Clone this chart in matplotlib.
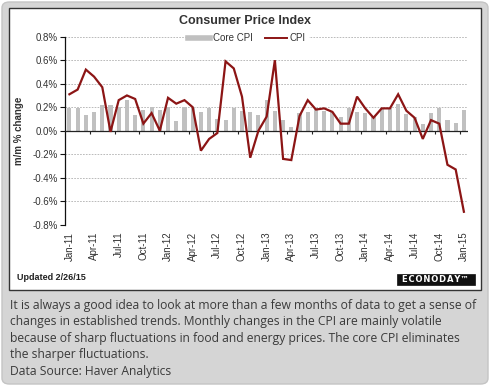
import numpy as np
import matplotlib
matplotlib.use("Agg")
import matplotlib.pyplot as plt
from matplotlib.patches import FancyBboxPatch, Rectangle
from matplotlib.lines import Line2D

plt.rcParams['font.family'] = ['Liberation Sans', 'DejaVu Sans']

months = ["Jan-11", "Feb-11", "Mar-11", "Apr-11", "May-11", "Jun-11", "Jul-11", "Aug-11", "Sep-11", "Oct-11", "Nov-11", "Dec-11",
          "Jan-12", "Feb-12", "Mar-12", "Apr-12", "May-12", "Jun-12", "Jul-12", "Aug-12", "Sep-12", "Oct-12", "Nov-12", "Dec-12",
          "Jan-13", "Feb-13", "Mar-13", "Apr-13", "May-13", "Jun-13", "Jul-13", "Aug-13", "Sep-13", "Oct-13", "Nov-13", "Dec-13",
          "Jan-14", "Feb-14", "Mar-14", "Apr-14", "May-14", "Jun-14", "Jul-14", "Aug-14", "Sep-14", "Oct-14", "Nov-14", "Dec-14",
          "Jan-15"]

cpi = [0.31, 0.35, 0.52, 0.46, 0.37, -0.01, 0.26, 0.30, 0.27, 0.06, 0.15, 0.00,
       0.28, 0.23, 0.26, 0.20, -0.17, -0.07, -0.02, 0.59, 0.53, 0.29, -0.23, 0.00,
       0.12, 0.60, -0.24, -0.25, 0.125, 0.26, 0.18, 0.19, 0.16, 0.06, 0.06, 0.29,
       0.19, 0.11, 0.19, 0.19, 0.31, 0.17, 0.11, -0.07, 0.09, 0.06, -0.29, -0.33,
       -0.69]

core_cpi = [0.19, 0.19, 0.13, 0.155, 0.22, 0.22, 0.20, 0.26, 0.13, 0.18, 0.20, 0.18,
            0.20, 0.08, 0.20, 0.20, 0.16, 0.19, 0.10, 0.09, 0.19, 0.17, 0.155, 0.13,
            0.26, 0.17, 0.09, 0.035, 0.15, 0.16, 0.19, 0.17, 0.16, 0.115, 0.19, 0.16,
            0.15, 0.12, 0.19, 0.19, 0.23, 0.14, 0.12, 0.055, 0.15, 0.19, 0.09, 0.065,
            0.18]

y_ticks = [-0.8, -0.6, -0.4, -0.2, 0.0, 0.2, 0.4, 0.6, 0.8]

title = "Consumer Price Index"
caption = ["It is always a good idea to look at more than a few months of data to get a sense of",
           "changes in established trends. Monthly changes in the CPI are mainly volatile",
           "because of sharp fluctuations in food and energy prices. The core CPI eliminates",
           "the sharper fluctuations.",
           "Data Source: Haver Analytics"]

W, H = 490, 386
fig = plt.figure(figsize=(W / 100, H / 100), dpi=100)
fig.patch.set_facecolor('white')

def fx(px):
    return px / W

def fy(py):
    return 1 - py / H

# outer gray panel
fig.patches.append(FancyBboxPatch((fx(2), fy(384)), fx(486), 382 / H,
                                  boxstyle="round,pad=0,rounding_size=0.015",
                                  transform=fig.transFigure, facecolor='#d5d5d5',
                                  edgecolor='#c4c4c4', lw=1.0, zorder=-10))
# inner white chart panel
fig.patches.append(Rectangle((fx(9), fy(290)), fx(472), 282 / H,
                             transform=fig.transFigure, facecolor='white',
                             edgecolor='#333333', lw=1.0, zorder=-9))
# logo box
fig.patches.append(Rectangle((fx(397), fy(284.5)), fx(78), 10.5 / H,
                             transform=fig.transFigure, facecolor='#111111',
                             edgecolor='#111111', lw=0.5, zorder=-8))

ax = fig.add_axes([fx(65.3), fy(224.7), fx(468 - 65.3), (224.7 - 36.7) / H])
ax.set_facecolor('none')
x = np.arange(len(months))
ax.set_xlim(-0.5, len(months) - 0.5)
ax.set_ylim(-0.8, 0.8)

for yv in y_ticks:
    if yv != 0:
        ax.axhline(yv, color='#b0b0b0', lw=0.6, ls=(0, (2, 1.5)), zorder=1)

ax.bar(x, core_cpi, width=0.5, color='#c0c0c0', zorder=2)
ax.axhline(0, color='#222222', lw=0.9, zorder=3)
ax.vlines(np.arange(2.5, len(months) - 1, 3), -0.028, 0, color='#222222', lw=0.8, zorder=3)
ax.plot(x, cpi, color='#8c1515', lw=1.6, zorder=4, solid_joinstyle='miter')

for s in ['top', 'right', 'bottom']:
    ax.spines[s].set_visible(False)
ax.spines['left'].set_color('#111111')
ax.spines['left'].set_linewidth(0.9)

ax.set_yticks(y_ticks)
ax.set_yticklabels([f"{v:.1f}%" for v in y_ticks])
ax.tick_params(axis='y', direction='out', length=3.5, width=0.8, labelsize=7, pad=2,
               colors='#111111', labelcolor='#333333')
ax.set_xticks(x[::3])
ax.set_xticklabels(months[::3], rotation=90)
ax.tick_params(axis='x', length=0, pad=5, labelsize=7, labelcolor='#333333')
ax.set_ylabel("m/m % change", fontsize=7, fontweight='bold', color='#333333', labelpad=2)
ax.yaxis.set_label_coords((24 - 65.3) / (468 - 65.3), 0.5)

handles = [Line2D([], [], color='#c0c0c0', lw=4), Line2D([], [], color='#8c1515', lw=1.4)]
leg = fig.legend(handles, ["Core CPI", "CPI"], loc='center', ncol=2,
                 bbox_to_anchor=(fx(247), fy(38)), bbox_transform=fig.transFigure,
                 fontsize=7, frameon=True, fancybox=False, facecolor='white',
                 edgecolor='white', framealpha=1, handlelength=2.3, handletextpad=0.3,
                 columnspacing=1.2, borderpad=0.25)
for t in leg.get_texts():
    t.set_color('#333333')

fig.text(fx(245), fy(21), title, ha='center', va='center', fontsize=9,
         fontweight='bold', color='#333333')
fig.text(fx(17), fy(278), "Updated 2/26/15", ha='left', va='center', fontsize=6.5,
         fontweight='bold', color='#222222')
fig.text(fx(435), fy(279.5), "\u200a".join("ECONODAY") + "\u2122", ha='center', va='center',
         fontsize=6, fontweight='bold', color='white', family=['DejaVu Sans'])

for i, line in enumerate(caption):
    fig.text(fx(10), fy(305 + 16.6 * i), line, ha='left', va='center', fontsize=8.75,
             color='#3a3a3a', family=['Open Sans', 'DejaVu Sans'])

fig.savefig("out.png", dpi=100, facecolor=fig.get_facecolor())
